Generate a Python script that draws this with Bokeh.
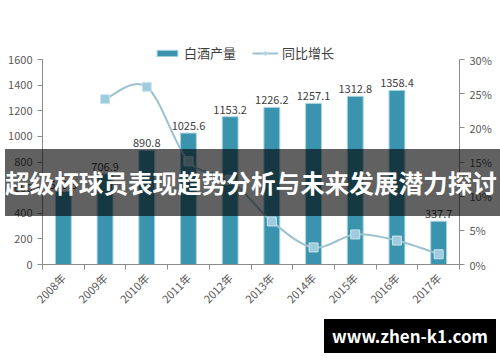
import math
from bokeh.plotting import figure
from bokeh.layouts import column
from bokeh.models import (Range1d, LinearAxis, FixedTicker, PrintfTickFormatter, Legend, LegendItem,
                          ColumnDataSource, Div)
from bokeh.core.properties import value
from bokeh.embed import file_html
from bokeh.resources import INLINE

# ---- data ----
years = ["2008年", "2009年", "2010年", "2011年", "2012年", "2013年", "2014年", "2015年", "2016年", "2017年"]
output = [569.3, 706.9, 890.8, 1025.6, 1153.2, 1226.2, 1257.1, 1312.8, 1358.4, 337.7]
growth_years = ["2009年", "2010年", "2011年", "2012年", "2013年", "2014年", "2015年", "2016年", "2017年"]
growth = [24.2, 26.0, 15.1, 12.4, 6.3, 2.5, 4.4, 3.5, 1.5]
left_ticks = [0, 200, 400, 600, 800, 1000, 1200, 1400, 1600]
right_ticks = [0, 5, 10, 15, 20, 25, 30]
banner_text = "超级杯球员表现趋势分析与未来发展潜力探讨"
site_text = "www.zhen-k1.com"

FONT = "Noto Sans CJK SC"
BAR = "#3a94ad"
LINE = "#9cc2d0"
AX = "#8c8c8c"
TXT = "#595959"

# layout constants (pixels)
TOP, AXIS_TOP, BOTTOM = 40, 59, 264
stretch = (BOTTOM - TOP) / (BOTTOM - AXIS_TOP)

x_idx = list(range(len(years)))
gx = [years.index(y) for y in growth_years]

p = figure(width=500, height=362, output_backend="svg", toolbar_location=None,
           x_range=Range1d(-0.5, len(years) - 0.5), y_range=Range1d(0, left_ticks[-1] * stretch),
           min_border_left=42, min_border_right=41, min_border_top=TOP, min_border_bottom=362 - BOTTOM)
p.outline_line_color = None
p.xgrid.visible = False
p.ygrid.visible = False
p.background_fill_color = "white"
p.border_fill_color = "white"
p.extra_y_ranges = {"pct": Range1d(0, right_ticks[-1] * stretch)}

# axes
p.yaxis.ticker = FixedTicker(ticks=left_ticks, minor_ticks=[])
p.yaxis.bounds = (left_ticks[0], left_ticks[-1])
p.xaxis.ticker = FixedTicker(ticks=x_idx, minor_ticks=[i - 0.5 for i in x_idx] + [x_idx[-1] + 0.5])
p.xaxis.major_label_overrides = {i: y for i, y in zip(x_idx, years)}
p.xaxis.major_label_orientation = math.pi / 4
p.xaxis.major_tick_line_color = None
p.xaxis.minor_tick_line_color = AX
p.xaxis.minor_tick_out = 5
p.xaxis.minor_tick_in = 0
for ax in [p.xaxis[0], p.yaxis[0]]:
    ax.axis_line_color = AX
    ax.major_label_text_font = FONT
    ax.major_label_text_font_size = "11px"
    ax.major_label_text_color = TXT
p.yaxis.major_tick_in = 0
p.yaxis.major_tick_out = 5
p.yaxis.major_tick_line_color = AX
p.yaxis.minor_tick_line_color = None

ra = LinearAxis(y_range_name="pct", ticker=FixedTicker(ticks=right_ticks, minor_ticks=[]),
                formatter=PrintfTickFormatter(format="%d%%"), bounds=(right_ticks[0], right_ticks[-1]))
ra.axis_line_color = AX
ra.major_tick_line_color = AX
ra.major_tick_in = 0
ra.major_tick_out = 5
ra.major_label_text_font = FONT
ra.major_label_text_font_size = "11px"
ra.major_label_text_color = TXT
p.add_layout(ra, "right")

# bars
src = ColumnDataSource(dict(x=x_idx, y=output, lab=[f"{v:.1f}" for v in output]))
bars = p.vbar(x="x", top="y", width=0.38, source=src, fill_color=BAR, line_color="#a9d3e0", line_width=1)
p.text(x="x", y="y", text="lab", source=src, text_align="center", text_baseline="bottom",
       y_offset=-3, text_font=value(FONT), text_font_size="11px", text_color="#404040")

# smooth growth line (Catmull-Rom via bezier)
n = len(gx)
x0, y0, x1, y1, cx0, cy0, cx1, cy1 = [], [], [], [], [], [], [], []
for i in range(n - 1):
    pm = (gx[i - 1], growth[i - 1]) if i > 0 else (gx[i], growth[i])
    pa = (gx[i], growth[i])
    pb = (gx[i + 1], growth[i + 1])
    pn = (gx[i + 2], growth[i + 2]) if i + 2 < n else pb
    x0.append(pa[0]); y0.append(pa[1]); x1.append(pb[0]); y1.append(pb[1])
    cx0.append(pa[0] + (pb[0] - pm[0]) / 6); cy0.append(pa[1] + (pb[1] - pm[1]) / 6)
    cx1.append(pb[0] - (pn[0] - pa[0]) / 6); cy1.append(pb[1] - (pn[1] - pa[1]) / 6)
line_r = p.bezier(x0=x0, y0=y0, x1=x1, y1=y1, cx0=cx0, cy0=cy0, cx1=cx1, cy1=cy1,
                  line_color=LINE, line_width=2, y_range_name="pct")
pts = p.scatter(x=gx, y=growth, marker="square", size=9, fill_color="#9fcbdf",
                line_color="#cde4ee", line_width=1, y_range_name="pct")

legend = Legend(items=[LegendItem(label="白酒产量", renderers=[bars]),
                       LegendItem(label="同比增长", renderers=[line_r, pts])],
                orientation="horizontal", location=(112, 202),
                border_line_color=None, background_fill_alpha=0,
                label_text_font=FONT, label_text_font_size="13px", label_text_color="#404040",
                glyph_width=26, glyph_height=8, spacing=16, padding=0, margin=0,
                label_standoff=4)
p.add_layout(legend, "center")

# overlays as positioned HTML
banner = Div(text=banner_text, width=500, height=67,
             styles={"position": "absolute", "left": "0px", "top": "144px", "z-index": "10",
                     "background-color": "rgba(0,0,0,0.62)", "color": "white",
                     "font-family": FONT, "font-weight": "bold", "font-size": "24.6px",
                     "line-height": "67px", "text-align": "left", "padding": "0px",
                     "text-indent": "0px", "white-space": "nowrap"})
site = Div(text=site_text, width=172, height=34,
           styles={"position": "absolute", "left": "319px", "top": "314px", "z-index": "10",
                   "background-color": "black", "color": "white",
                   "font-family": FONT, "font-weight": "bold", "font-size": "17px",
                   "line-height": "34px", "text-align": "center", "white-space": "nowrap"})

layout = column(p, banner, site, spacing=0)
open("out.html", "w").write(file_html(layout, INLINE))
